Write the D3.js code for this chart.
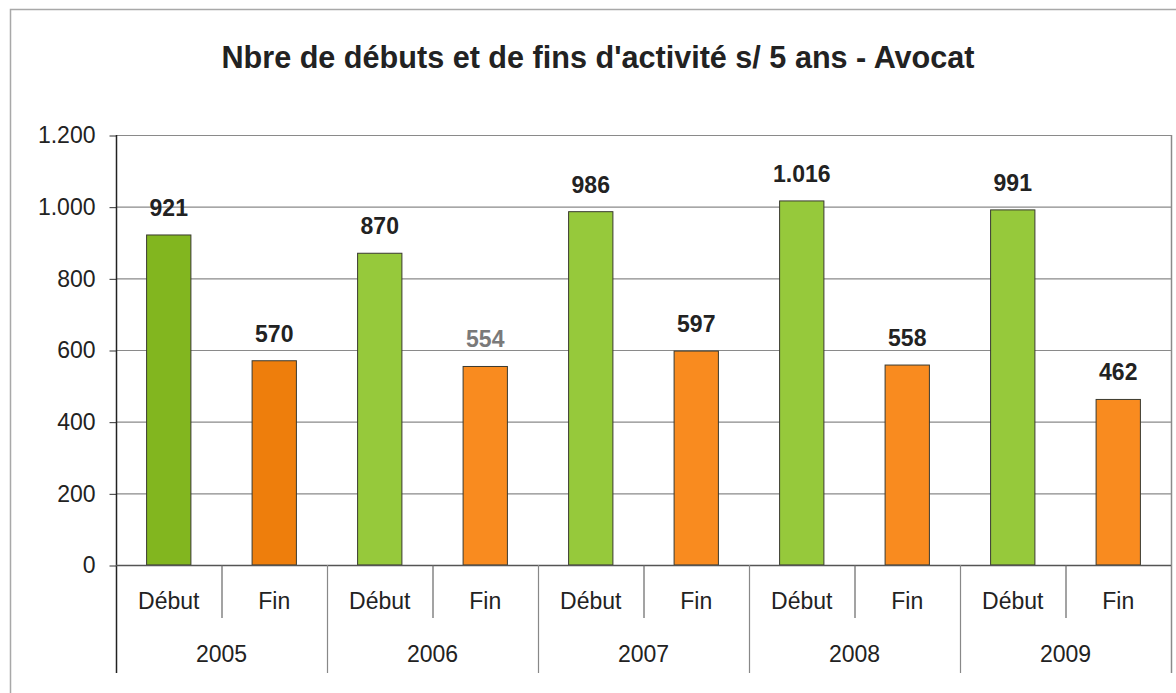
<!DOCTYPE html>
<html>
<head>
<meta charset="utf-8">
<script src="https://cdn.jsdelivr.net/npm/d3@7.9.0/dist/d3.min.js"></script>
<style>
  html, body { margin: 0; padding: 0; background: #fff; }
  svg { display: block; font-family: 'Liberation Sans', Arial, sans-serif; }
</style>
</head>
<body>
<svg id="chart" width="1176" height="693"></svg>
<script>
const title = "Nbre de débuts et de fins d'activité s/ 5 ans - Avocat";
const years = ['2005', '2006', '2007', '2008', '2009'];
const series = ['Début', 'Fin'];
const debuts = [921, 870, 986, 1016, 991];
const fins = [570, 554, 597, 558, 462];
const yTicks = [0, 200, 400, 600, 800, 1000, 1200];

const svg = d3.select('#chart');
const plotLeft = 116, plotRight = 1171, plotTop = 135, plotBottom = 565;

const locale = d3.formatLocale({ decimal: ',', thousands: '.', grouping: [3], currency: ['', ' €'] });
const fmt = locale.format(',d');

const x0 = d3.scaleBand().domain(years).range([plotLeft, plotRight]);
const x1 = d3.scaleBand().domain(series).range([0, x0.bandwidth()]);
const y = d3.scaleLinear().domain([0, 1200]).range([plotBottom, plotTop]);

// outer frame (right and bottom edges fall outside the picture)
svg.append('rect')
  .attr('x', 10.5).attr('y', 9.5)
  .attr('width', 1200).attr('height', 720)
  .attr('fill', 'none').attr('stroke', '#a8a8a8').attr('stroke-width', 1.5);

svg.append('text')
  .attr('x', 598).attr('y', 68)
  .attr('text-anchor', 'middle')
  .attr('font-size', 30.6).attr('font-weight', 'bold')
  .attr('fill', '#222')
  .text(title);

// gridlines
svg.append('g')
  .selectAll('line')
  .data(yTicks.filter(d => d > 0))
  .join('line')
  .attr('x1', plotLeft).attr('x2', plotRight)
  .attr('y1', d => y(d) + 0.5).attr('y2', d => y(d) + 0.5)
  .attr('stroke', '#8a8a8a').attr('stroke-width', 1.2);

// right border of plot
svg.append('line')
  .attr('x1', plotRight + 0.5).attr('x2', plotRight + 0.5)
  .attr('y1', plotTop).attr('y2', 673)
  .attr('stroke', '#8a8a8a').attr('stroke-width', 1.5);

// y axis
const yAxis = d3.axisLeft(y).tickValues(yTicks).tickFormat(fmt).tickSize(7).tickPadding(14);
const yg = svg.append('g').attr('transform', `translate(${plotLeft + 0.5},0.5)`).call(yAxis);
yg.select('.domain').remove();
yg.selectAll('.tick line').attr('stroke', '#333');
yg.selectAll('.tick text')
  .attr('font-size', 23).attr('fill', '#222')
  .attr('font-family', "'Liberation Sans', Arial, sans-serif");
svg.append('line')
  .attr('x1', plotLeft + 0.5).attr('x2', plotLeft + 0.5)
  .attr('y1', plotTop).attr('y2', 673)
  .attr('stroke', '#222').attr('stroke-width', 1.5);

// bars
const rows = years.flatMap((yr, i) => [
  { year: yr, s: 'Début', v: debuts[i], i },
  { year: yr, s: 'Fin', v: fins[i], i }
]);
const barW = x1.bandwidth() * 0.42;
const fill = d => d.s === 'Début'
  ? (d.i === 0 ? '#82b61f' : '#96c93b')
  : (d.i === 0 ? '#ee7e0c' : '#f98b1f');

const g = svg.append('g');
g.selectAll('rect')
  .data(rows)
  .join('rect')
  .attr('x', d => x0(d.year) + x1(d.s) + (x1.bandwidth() - barW) / 2)
  .attr('y', d => y(d.v))
  .attr('width', barW)
  .attr('height', d => y(0) - y(d.v))
  .attr('fill', fill)
  .attr('stroke', '#3a3a30').attr('stroke-width', 1);

g.selectAll('text')
  .data(rows)
  .join('text')
  .attr('x', d => x0(d.year) + x1(d.s) + x1.bandwidth() / 2)
  .attr('y', d => y(d.v) - 19)
  .attr('text-anchor', 'middle')
  .attr('font-size', 23).attr('font-weight', 'bold')
  .attr('fill', d => (d.year === '2006' && d.s === 'Fin') ? '#7a7a7a' : '#222')
  .text(d => fmt(d.v));

// category axis baseline
svg.append('line')
  .attr('x1', plotLeft).attr('x2', plotRight)
  .attr('y1', plotBottom + 0.5).attr('y2', plotBottom + 0.5)
  .attr('stroke', '#555').attr('stroke-width', 1.5);

// dividers between Début and Fin
svg.append('g')
  .selectAll('line')
  .data(years)
  .join('line')
  .attr('x1', d => x0(d) + x1('Fin') + 0.5).attr('x2', d => x0(d) + x1('Fin') + 0.5)
  .attr('y1', plotBottom).attr('y2', 618)
  .attr('stroke', '#666').attr('stroke-width', 1.2);

// dividers between years
svg.append('g')
  .selectAll('line')
  .data(years.slice(1))
  .join('line')
  .attr('x1', d => x0(d) + 0.5).attr('x2', d => x0(d) + 0.5)
  .attr('y1', plotBottom).attr('y2', 673)
  .attr('stroke', '#888').attr('stroke-width', 1.2);

// series labels
svg.append('g')
  .selectAll('text')
  .data(rows)
  .join('text')
  .attr('x', d => x0(d.year) + x1(d.s) + x1.bandwidth() / 2)
  .attr('y', 609)
  .attr('text-anchor', 'middle')
  .attr('font-size', 23).attr('fill', '#222')
  .text(d => d.s);

// year labels
svg.append('g')
  .selectAll('text')
  .data(years)
  .join('text')
  .attr('x', d => x0(d) + x0.bandwidth() / 2)
  .attr('y', 662)
  .attr('text-anchor', 'middle')
  .attr('font-size', 23).attr('font-weight', 'normal').attr('fill', '#222')
  .text(d => d);
</script>
</body>
</html>
